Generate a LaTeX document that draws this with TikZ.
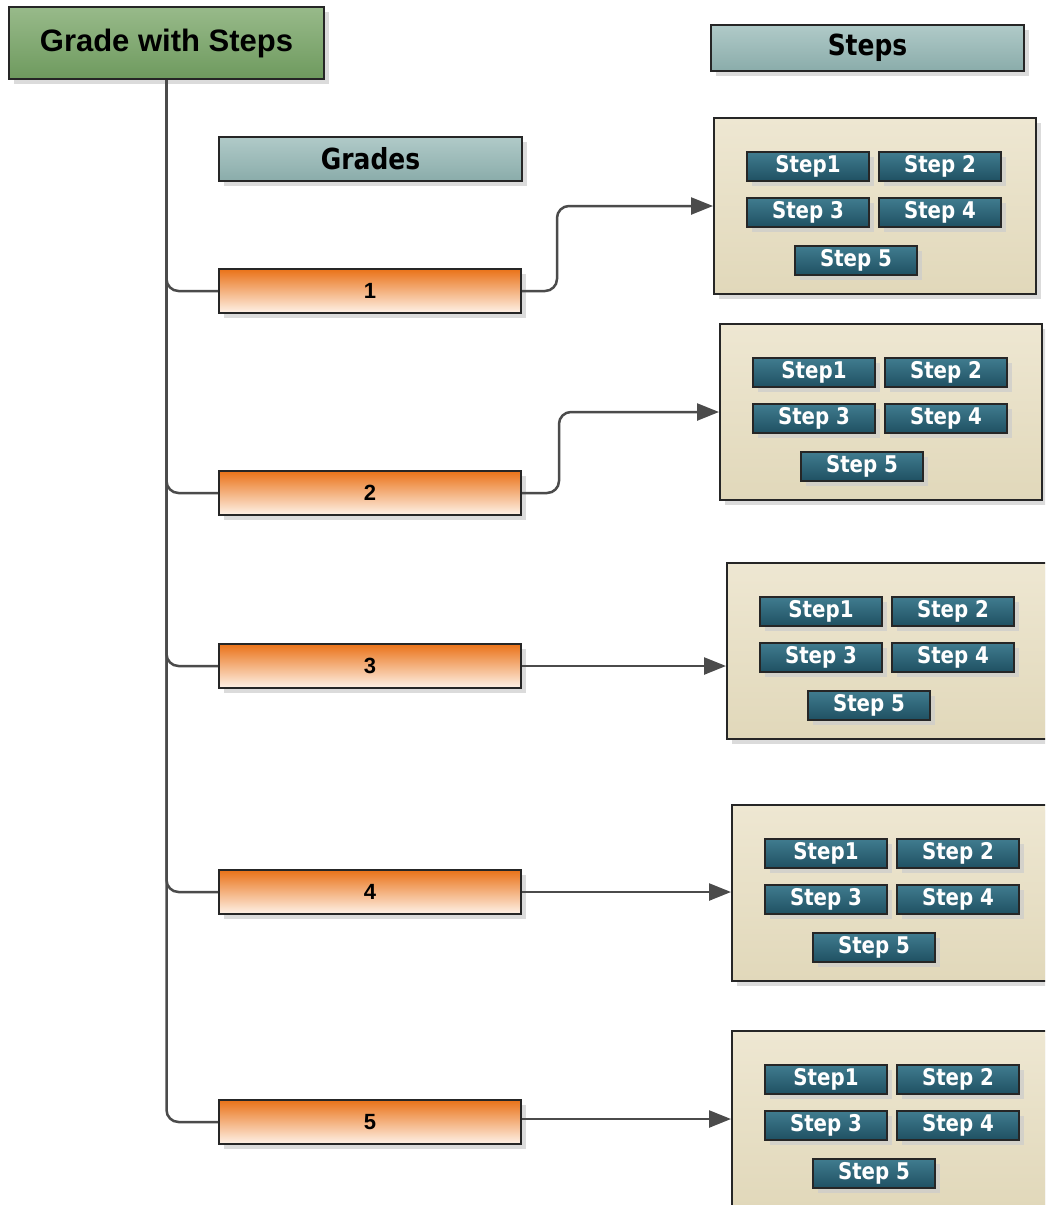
\documentclass[tikz,border=0pt]{standalone}
\usepackage{fontspec}
\newfontfamily\labelfont{Liberation Sans}
\newfontfamily\stepfont[FakeStretch=0.86]{DejaVu Sans}
\usetikzlibrary{positioning, shadows, arrows.meta}

\definecolor{greentop}{RGB}{152,186,138}
\definecolor{greenbot}{RGB}{110,154,94}
\definecolor{headtop}{RGB}{176,202,200}
\definecolor{headbot}{RGB}{138,172,170}
\definecolor{orangetop}{RGB}{234,114,24}
\definecolor{orangebot}{RGB}{254,242,232}
\definecolor{beigetop}{RGB}{238,231,210}
\definecolor{beigebot}{RGB}{225,216,186}
\definecolor{tealtop}{RGB}{64,124,143}
\definecolor{tealbot}{RGB}{31,80,98}
\definecolor{linegray}{RGB}{75,75,75}

\tikzset{
  boxshadow/.style={drop shadow={shadow xshift=5pt, shadow yshift=-5pt, fill=black!20, opacity=0.7}},
  plainbox/.style={draw=black!85, line width=2pt, inner sep=0pt, boxshadow},
  rootbox/.style={plainbox, top color=greentop, bottom color=greenbot,
    minimum width=315pt, minimum height=72pt,
    font=\labelfont\bfseries\fontsize{31}{36}\selectfont},
  headbox/.style={plainbox, top color=headtop, bottom color=headbot,
    minimum height=46pt, font=\stepfont\bfseries\fontsize{29}{34}\selectfont},
  gradebox/.style={plainbox, top color=orangetop, bottom color=orangebot,
    minimum width=302pt, minimum height=44pt,
    font=\labelfont\bfseries\fontsize{22}{26}\selectfont},
  groupbox/.style={plainbox, top color=beigetop, bottom color=beigebot,
    minimum width=322pt, minimum height=176pt},
  stepbox/.style={plainbox, top color=tealtop, bottom color=tealbot, text=white,
    minimum width=122pt, minimum height=29pt,
    font=\stepfont\bfseries\fontsize{23}{26}\selectfont},
  link/.style={draw=linegray, line width=2.5pt},
  tip/.style={-{Triangle[length=22pt, width=17pt]}},
}

\begin{document}
\begin{tikzpicture}[x=1pt, y=-1pt]
    \useasboundingbox (0,0) rectangle (1045,1205);
    \clip (0,0) rectangle (1045,1205);

    % top boxes
    \node[rootbox, anchor=north west] (root) at (8,6) {Grade with Steps};
    \node[headbox, anchor=north west, minimum width=313pt] (stepshead) at (710,24) {Steps};
    \node[headbox, anchor=north west, minimum width=303pt, minimum height=44pt] (gradeshead) at (218,136) {Grades};

    % grades
    \foreach \g/\y in {1/268, 2/470, 3/643, 4/869, 5/1099}
        \node[gradebox, anchor=north west] (g\g) at (218,\y) {\g};

    % step groups
    \foreach \g/\x/\y in {1/713/117, 2/719/323, 3/726/562, 4/731/804, 5/731/1030} {
        \node[groupbox, anchor=north west] (c\g) at (\x,\y) {};
        \node[stepbox, below right=34pt and 33pt of c\g.north west] (s\g-1) {Step1};
        \node[stepbox, right=8pt of s\g-1] (s\g-2) {Step 2};
        \node[stepbox, below=15pt of s\g-1] (s\g-3) {Step 3};
        \node[stepbox, below=15pt of s\g-2] (s\g-4) {Step 4};
        \node[stepbox, below right=17pt and 48pt of s\g-3.south west] (s\g-5) {Step 5};
    }

    % trunk and branches
    \foreach \g in {1,...,5}
        \draw[link, rounded corners=12pt] (root.south) |- (g\g.west);

    % grade to steps
    \draw[link, tip, rounded corners=12pt] (g1.east) -- ++(35,0) |- (c1.west);
    \draw[link, tip, rounded corners=12pt] (g2.east) -- ++(37,0) |- (c2.west);
    \draw[link, tip] (g3.east) -- (c3.west |- g3.east);
    \draw[link, tip] (g4.east) -- (c4.west |- g4.east);
    \draw[link, tip] (g5.east |- c5.west) -- (c5.west);
\end{tikzpicture}
\end{document}
